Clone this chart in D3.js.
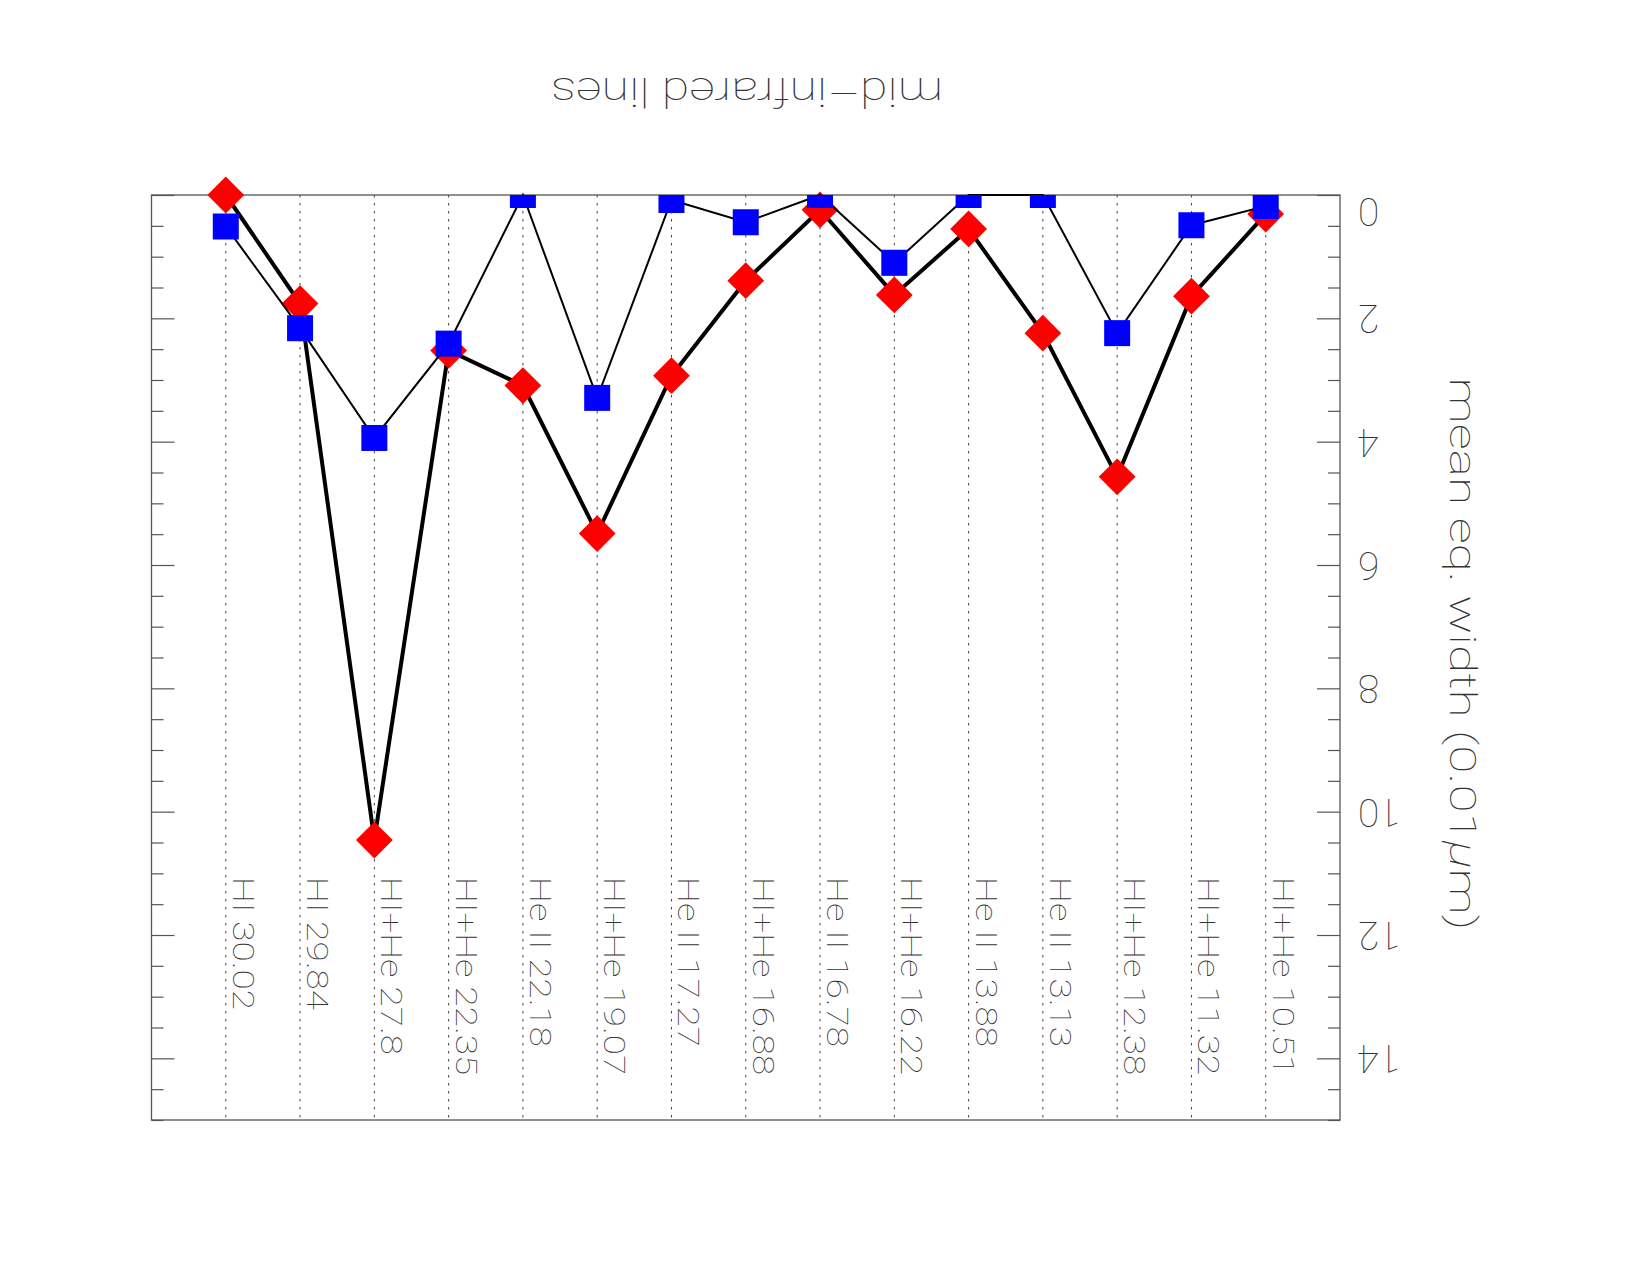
<!DOCTYPE html>
<html>
<head>
<meta charset="utf-8">
<script src="https://cdn.jsdelivr.net/npm/d3@7"></script>
<style>
  html, body { margin: 0; padding: 0; background: #fff; }
  svg { display: block; }
  text { font-family: Roboto, "DejaVu Sans", sans-serif; font-weight: 100; fill: #333; }
</style>
</head>
<body>
<script>
// ---- data ----
const categories = ["HI 30.02", "HI 29.84", "HI+He 27.8", "HI+He 22.35", "He II 22.18",
  "HI+He 19.07", "He II 17.27", "HI+He 16.88", "He II 16.78", "HI+He 16.22",
  "He II 13.88", "He II 13.13", "HI+He 12.38", "HI+He 11.32", "HI+He 10.51"];
const redValues  = [0.00, 1.76, 10.46, 2.52, 3.09, 5.49, 2.93, 1.39, 0.24, 1.62, 0.55, 2.24, 4.57, 1.64, 0.31];
const blueValues = [0.51, 2.16, 3.94, 2.41, 0.00, 3.29, 0.08, 0.44, 0.00, 1.10, 0.00, 0.00, 2.24, 0.49, 0.18];
const yTickValues = [0, 2, 4, 6, 8, 10, 12, 14];
const titleText = "mid\u2013infrared lines";
const yTitleText = "mean eq. width (0.01";
const yTitleUnit = "\u03BC";
const yTitleEnd = "m)";

// ---- layout ----
const W = 1650, H = 1275;
const L = 151.5, R = 1340, T = 195, B = 1120;
const gray = "#555";

const svg = d3.select("body").append("svg").attr("width", W).attr("height", H);

const x = d3.scaleLinear().domain([-1, categories.length]).range([L, R]);
const y = d3.scaleLinear().domain([0, 15]).range([T, B]);

svg.append("defs").append("clipPath").attr("id", "plotclip")
  .append("rect").attr("x", L).attr("y", T).attr("width", R - L).attr("height", B - T);

// dotted category lines
svg.append("g").selectAll("line").data(categories).join("line")
  .attr("x1", (d, i) => x(i)).attr("x2", (d, i) => x(i))
  .attr("y1", T).attr("y2", B)
  .attr("stroke", "#444").attr("stroke-width", 1).attr("stroke-dasharray", "2.5,5.5");

// axes (ticks inward on both sides)
const minorVals = d3.range(0, 15.001, 0.5).filter(v => v % 2 !== 0);
function styleAxis(g) {
  g.select(".domain").remove();
  g.selectAll(".tick line").attr("stroke", gray).attr("stroke-width", 1.2);
  g.selectAll(".tick text").remove();
}
svg.append("g").attr("transform", `translate(${L},0)`)
  .call(d3.axisRight(y).tickValues(yTickValues).tickSize(23).tickFormat("")).call(styleAxis);
svg.append("g").attr("transform", `translate(${L},0)`)
  .call(d3.axisRight(y).tickValues(minorVals).tickSize(12).tickFormat("")).call(styleAxis);
svg.append("g").attr("transform", `translate(${R},0)`)
  .call(d3.axisLeft(y).tickValues(yTickValues).tickSize(23).tickFormat("")).call(styleAxis);
svg.append("g").attr("transform", `translate(${R},0)`)
  .call(d3.axisLeft(y).tickValues(minorVals).tickSize(12).tickFormat("")).call(styleAxis);

// frame
svg.append("rect").attr("x", L).attr("y", T).attr("width", R - L).attr("height", B - T)
  .attr("fill", "none").attr("stroke", gray).attr("stroke-width", 1.3);

// tick labels (upside down)
svg.append("g").selectAll("text").data(yTickValues).join("text")
  .attr("transform", d => `translate(1358,${y(d) + (d === 0 ? 16 : 0)}) rotate(180)`)
  .attr("text-anchor", "end").attr("dominant-baseline", "central")
  .style("font-size", "39px").text(d => d);

// category labels (rotated 90)
const catG = svg.append("g");
const catTexts = catG.selectAll("text").data(categories).join("text")
  .attr("text-anchor", "start")
  .style("font-size", "30px").text(d => d);
let refLen = 133;
let measured = catTexts.nodes()[0].getComputedTextLength();
const sx = refLen / measured;
catTexts.attr("transform", (d, i) => `translate(${x(i) + 7},877) rotate(90) scale(${sx},1)`);

// title (upside down)
const title = svg.append("text")
  .attr("text-anchor", "middle").style("font-size", "40px").text(titleText);
const tsx = 392 / title.node().getComputedTextLength();
title.attr("transform", `translate(747,78) rotate(180) scale(${tsx},1)`);

// y title (rotated 90, reading downward)
const yt = svg.append("text").attr("text-anchor", "middle").style("font-size", "37px");
yt.append("tspan").text(yTitleText);
yt.append("tspan").style("font-style", "italic").text(yTitleUnit);
yt.append("tspan").text(yTitleEnd);
const ysx = 553 / yt.node().getComputedTextLength();
yt.attr("transform", `translate(1450,654) rotate(90) scale(${ysx},1)`);

// series
const line = d3.line().x((d, i) => x(i)).y(d => y(d));

// red series: thick line + diamonds
svg.append("path").datum(redValues).attr("d", line)
  .attr("fill", "none").attr("stroke", "#000").attr("stroke-width", 4).attr("stroke-linejoin", "miter");
const dsym = d3.symbol().type(d3.symbolSquare).size(26 * 26);
svg.append("g").selectAll("path").data(redValues).join("path")
  .attr("d", dsym)
  .attr("transform", (d, i) => `translate(${x(i)},${y(d)}) rotate(45)`)
  .attr("fill", "#ff0000");

// blue series: thin line + squares (clipped to plot area)
svg.append("path").datum(blueValues).attr("d", line)
  .attr("fill", "none").attr("stroke", "#000").attr("stroke-width", 2);
svg.append("g").attr("clip-path", "url(#plotclip)").selectAll("path").data(blueValues).join("path")
  .attr("d", dsym)
  .attr("transform", (d, i) => `translate(${x(i)},${y(d)})`)
  .attr("fill", "#0000ff");
</script>
</body>
</html>
